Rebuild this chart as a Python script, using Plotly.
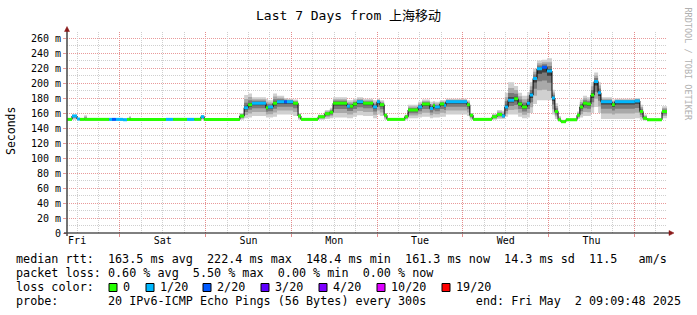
import plotly.graph_objects as go
from datetime import datetime, timedelta

# ---------------- data ----------------
START = datetime(2025, 4, 25, 9, 9, 48)
END = datetime(2025, 5, 2, 9, 9, 48)

# segment start, hours after START
seg_hours = [0, 1.4, 2.8, 3.6, 4.8, 5.6, 11.8, 12.6, 13.7, 15.7, 16.8, 17.4, 17.9, 27.7, 29.7, 33.6,
             35.6, 37.5, 38.4, 48.4, 49.6, 50.7, 51.8, 55.7, 56.3, 57.7, 58.8, 60.8, 61.6, 63.3, 64.7,
             65.5, 70.3, 72.2, 73.6, 74.5, 78.4, 79.2, 80.1, 81.2, 82.9, 85.7, 86.8, 87.6, 88.8, 89.6,
             94.6, 95.5, 98.3, 99.4, 101.6, 102.5, 103.0, 104.4, 105.6, 106.1, 112.0, 112.8, 113.7,
             119.0, 120.4, 121.8, 122.6, 123.5, 125.2, 126.3, 127.4, 128.8, 129.6, 130.5, 131.6,
             133.0, 134.4, 135.8, 136.6, 137.5, 138.3, 139.7, 142.8, 143.6, 144.5, 145.6, 146.7,
             147.6, 148.7, 149.5, 152.6, 153.4, 159.0, 160.4, 161.3, 162.4, 166.6]
median_ms = [151.5, 156, 152, 151.5, 151.5, 151.5, 151.5, 151.5, 151.5, 151, 151.5, 151.5, 151.5,
             151.5, 151.5, 151.5, 151.5, 155, 151.5, 156, 167, 171, 173, 167, 168, 173, 175, 175,
             175, 173, 156, 151.5, 155, 159, 161, 173, 169, 169, 172, 175, 173, 168, 175, 171, 157,
             151.5, 155, 164, 168, 172, 166, 170, 168, 172, 170, 175, 171, 157, 151.5, 155, 158,
             156, 168, 177, 179, 172, 168, 173, 184, 206, 219, 221, 216, 180, 162, 151, 148.4, 151,
             157, 168, 173, 172, 184, 202, 187, 175, 171, 175, 176, 162, 153, 151, 162]
loss_idx = [0, 1, 1, 0, 0, 0, 1, 2, 1, 1, 0, 0, 0, 1, 0, 1, 0, 1, 0, 0, 1, 0, 1, 0, 1, 0, 1, 2, 1,
            0, 0, 0, 0, 0, 0, 0, 1, 0, 0, 1, 0, 1, 1, 0, 0, 0, 0, 0, 1, 0, 1, 0, 1, 0, 1, 1, 0, 0,
            0, 0, 0, 1, 1, 1, 0, 0, 0, 1, 1, 1, 1, 2, 1, 1, 0, 0, 0, 0, 0, 0, 0, 0, 0, 1, 1, 1, 0,
            1, 1, 0, 0, 0, 0]
smoke_lo = [150, 151, 150, 150, 150, 150, 150, 150, 150, 150, 150, 150, 150, 150, 150, 150, 150, 151,
            150, 151, 153, 154, 156, 154, 154, 155, 158, 158, 158, 156, 151, 150, 151, 152, 153, 154,
            153, 153, 155, 157, 156, 153, 158, 156, 151, 150, 151, 153, 154, 155, 153, 154, 154, 155,
            155, 158, 156, 151, 150, 151, 152, 152, 155, 158, 158, 155, 153, 154, 160, 172, 177, 177,
            177, 158, 152, 149, 147, 150, 152, 154, 156, 156, 160, 168, 160, 152, 152, 152, 153, 151,
            150, 150, 153]
smoke_hi = [153, 158, 153, 153, 157, 153, 153, 153, 153, 153, 153, 156, 153, 153, 153, 153, 153, 157,
            153, 160, 184, 186, 181, 179, 177, 186, 183, 180, 179, 178, 160, 153, 158, 164, 167, 181,
            177, 177, 179, 181, 179, 177, 179, 177, 160, 153, 158, 171, 175, 178, 175, 176, 175, 177,
            177, 179, 177, 160, 153, 159, 164, 163, 187, 201, 196, 187, 183, 188, 201, 219, 230, 231,
            233, 191, 173, 156, 151, 153, 162, 178, 183, 181, 201, 214, 201, 181, 178, 179, 180, 171,
            158, 153, 169]

day_labels = ["Fri", "Sat", "Sun", "Mon", "Tue", "Wed", "Thu"]
y_tick_vals = list(range(0, 261, 20))
y_tick_text = ["0"] + [f"{v} m" for v in range(20, 261, 20)]
loss_labels = ["0", "1/20", "2/20", "3/20", "4/20", "10/20", "19/20"]
loss_colors = ["#26ff00", "#00b8ff", "#0059ff", "#5e00ff", "#7e00ff", "#dd00ff", "#ff0000"]

stat_lines = [
    "median rtt:  163.5 ms avg  222.4 ms max  148.4 ms min  161.3 ms now  14.3 ms sd  11.5   am/s",
    "packet loss: 0.60 % avg  5.50 % max  0.00 % min  0.00 % now",
    "loss color:",
    "probe:       20 IPv6-ICMP Echo Pings (56 Bytes) every 300s       end: Fri May  2 09:09:48 2025",
]

# ---------------- layout geometry ----------------
W, H = 697, 315
L, R, T, B = 67, 667, 32, 233
MONO = "DejaVu Sans Mono, Noto Sans CJK SC, monospace"
FS = 11.75


def fx(px):
    return (px - L) / (R - L)


def fy(py):
    return (B - py) / (B - T)


times = [START + timedelta(hours=h) for h in seg_hours] + [END]


def stepvals(arr):
    return list(arr) + [arr[-1]]


fig = go.Figure()

# smoke bands (outer to inner)
layers = [(1.0, "#d0d0d0"), (0.68, "#a9a9a9"), (0.40, "#7a7a7a"), (0.16, "#3e3e3e")]
for frac, col in layers:
    lo = [m - frac * (m - a) for m, a in zip(median_ms, smoke_lo)]
    hi = [m + frac * (b - m) for m, b in zip(median_ms, smoke_hi)]
    fig.add_trace(go.Scatter(x=times, y=stepvals(lo), mode="lines", line=dict(width=0, shape="hv"),
                             hoverinfo="skip", showlegend=False))
    fig.add_trace(go.Scatter(x=times, y=stepvals(hi), mode="lines", line=dict(width=0, shape="hv"),
                             fill="tonexty", fillcolor=col, hoverinfo="skip", showlegend=False))

# black median step line
fig.add_trace(go.Scatter(x=times, y=stepvals(median_ms), mode="lines",
                         line=dict(color="#000000", width=1, shape="hv"),
                         hoverinfo="skip", showlegend=False))

# loss coloured median bars
for c in sorted(set(loss_idx)):
    xs, ys = [], []
    for i, li in enumerate(loss_idx):
        if li == c:
            xs += [times[i], times[i + 1], None]
            ys += [median_ms[i], median_ms[i], None]
    fig.add_trace(go.Scatter(x=xs, y=ys, mode="lines", line=dict(color=loss_colors[c], width=3),
                             hoverinfo="skip", showlegend=False))

day0 = datetime(2025, 4, 25)
noon_ticks = [datetime(2025, 4, 25, 12) + timedelta(days=d) for d in range(7)]
six_hour_ticks = [day0 + timedelta(hours=h) for h in range(6, 8 * 24, 6) if h % 24 != 0]
midnights = [datetime(2025, 4, 26) + timedelta(days=d) for d in range(7)]

MAJ = "#e48c8c"
MAJY = "#e99a9a"
MIN = "#cfcfcf"
DASH = "1px,1px"

fig.update_layout(
    width=W, height=H,
    margin=dict(l=L, r=W - R, t=T, b=H - B, pad=0),
    paper_bgcolor="white", plot_bgcolor="white",
    showlegend=False,
    # red midnight grid (main axis)
    xaxis=dict(type="date", range=[START, END], tickmode="array", tickvals=midnights,
               showticklabels=False, ticks="outside", ticklen=3, tickcolor=MAJ,
               showgrid=True, gridcolor=MAJ, griddash=DASH, gridwidth=1, zeroline=False,
               showline=False),
    # day labels at noon
    xaxis2=dict(type="date", range=[START, END], overlaying="x", anchor="y", side="bottom",
                tickmode="array", tickvals=noon_ticks, ticktext=day_labels, showgrid=False,
                ticks="", zeroline=False, showline=False,
                tickfont=dict(family=MONO, size=10, color="#000")),
    # 6-hour grey grid (excluding midnights)
    xaxis3=dict(type="date", range=[START, END], overlaying="x", anchor="y", side="bottom",
                tickmode="array", tickvals=six_hour_ticks, showticklabels=False, ticks="",
                showgrid=True, gridcolor=MIN, griddash=DASH, gridwidth=1, zeroline=False,
                showline=False),
    yaxis=dict(range=[0, 268], tickmode="array", tickvals=y_tick_vals, ticktext=y_tick_text,
               ticks="outside", ticklen=3, tickcolor=MAJY, showgrid=True, gridcolor=MAJY,
               griddash=DASH, gridwidth=1, zeroline=False, showline=False,
               tickfont=dict(family=MONO, size=10, color="#000"),
               minor=dict(tickmode="linear", tick0=0, dtick=10, showgrid=True, gridcolor=MIN,
                          griddash=DASH, gridwidth=1, ticks="")),
)
# dummy traces to activate overlay axes
fig.add_trace(go.Scatter(x=[START], y=[None], xaxis="x2", yaxis="y", showlegend=False,
                         hoverinfo="skip"))
fig.add_trace(go.Scatter(x=[START], y=[None], xaxis="x3", yaxis="y", showlegend=False,
                         hoverinfo="skip"))

shapes = []
# axes lines
shapes.append(dict(type="line", xref="paper", yref="paper", x0=fx(64), x1=fx(670), y0=fy(233),
                   y1=fy(233), line=dict(color="#000000", width=1)))
shapes.append(dict(type="line", xref="paper", yref="paper", x0=fx(67), x1=fx(67), y0=fy(236),
                   y1=fy(30), line=dict(color="#444444", width=1.5)))
# arrows
ARW = "#8b1a1a"
shapes.append(dict(type="path", xref="paper", yref="paper",
                   path=f"M {fx(669)} {fy(230.5)} L {fx(674)} {fy(233)} L {fx(669)} {fy(235.5)} Z",
                   fillcolor=ARW, line=dict(color=ARW, width=0.5)))
shapes.append(dict(type="path", xref="paper", yref="paper",
                   path=f"M {fx(64.5)} {fy(31.5)} L {fx(67)} {fy(26.5)} L {fx(69.5)} {fy(31.5)} Z",
                   fillcolor=ARW, line=dict(color=ARW, width=0.5)))

annotations = []
# title
annotations.append(dict(text="Last 7 Days from 上海移动", xref="paper", yref="paper", x=fx(348.5),
                        y=fy(15), xanchor="center", yanchor="middle", showarrow=False,
                        font=dict(family=MONO, size=13, color="#000")))
# y axis label
annotations.append(dict(text="Seconds", xref="paper", yref="paper", x=fx(11), y=fy(131),
                        xanchor="center", yanchor="middle", textangle=-90, showarrow=False,
                        font=dict(family=MONO, size=11.5, color="#000")))
# watermark
annotations.append(dict(text="RRDTOOL / TOBI OETIKER", xref="paper", yref="paper", x=fx(688),
                        y=fy(5), xanchor="center", yanchor="top", textangle=90, showarrow=False,
                        font=dict(family=MONO, size=8.5, color="#b0b0b0")))

# statistics lines
line_y = [259, 273, 287, 301]
for txt, yy in zip(stat_lines, line_y):
    annotations.append(dict(text=txt.replace(" ", "\u00a0"), xref="paper", yref="paper", x=fx(14),
                            y=fy(yy), xanchor="left", yanchor="middle", showarrow=False,
                            font=dict(family=MONO, size=FS, color="#000")))

# loss colour legend
box_x = [109, 146, 203, 261, 319, 377, 442]
for bx, lab, col in zip(box_x, loss_labels, loss_colors):
    shapes.append(dict(type="rect", xref="paper", yref="paper", x0=fx(bx), x1=fx(bx + 8),
                       y0=fy(291.5), y1=fy(283.5), fillcolor=col, line=dict(color="#000", width=1)))
    annotations.append(dict(text=lab, xref="paper", yref="paper", x=fx(bx + 12), y=fy(287),
                            xanchor="left", yanchor="middle", showarrow=False,
                            font=dict(family=MONO, size=FS, color="#000")))

fig.update_layout(shapes=shapes, annotations=annotations)
fig.write_html("out.html")
